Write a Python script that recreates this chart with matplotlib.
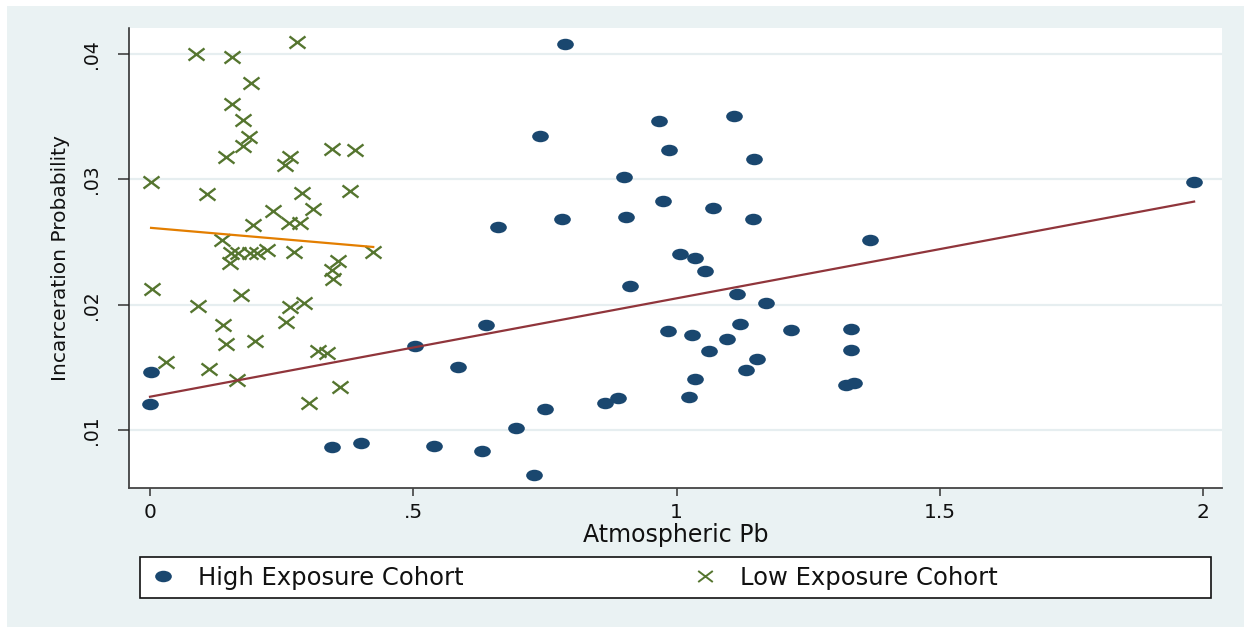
import numpy as np
import matplotlib
matplotlib.use("Agg")
import matplotlib.pyplot as plt
from matplotlib.path import Path
from matplotlib.patches import Rectangle
from matplotlib.lines import Line2D
from matplotlib.transforms import Affine2D

# ---------------- data ----------------
high_pb = [0.002, 0.000, 0.345, 0.401, 0.503, 0.539, 0.585, 0.638, 0.631, 0.660,
           0.696, 0.730, 0.740, 0.750, 0.782, 0.788, 0.864, 0.889, 0.900, 0.904,
           0.912, 0.966, 0.975, 0.986, 0.984, 1.006, 1.030, 1.036, 1.024, 1.035,
           1.055, 1.061, 1.070, 1.096, 1.109, 1.114, 1.121, 1.131, 1.147, 1.146,
           1.153, 1.170, 1.218, 1.332, 1.331, 1.322, 1.337, 1.367, 1.983]
high_prob = [0.01463, 0.01210, 0.00865, 0.00899, 0.01672, 0.00874, 0.01502, 0.01838, 0.00834, 0.02620,
             0.01016, 0.00643, 0.03346, 0.01165, 0.02684, 0.04082, 0.01214, 0.01255, 0.03020, 0.02701,
             0.02152, 0.03468, 0.02828, 0.03237, 0.01789, 0.02401, 0.01761, 0.02373, 0.01261, 0.01405,
             0.02272, 0.01630, 0.02774, 0.01727, 0.03506, 0.02083, 0.01846, 0.01480, 0.03161, 0.02683,
             0.01569, 0.02010, 0.01799, 0.01806, 0.01635, 0.01359, 0.01376, 0.02516, 0.02982]

low_pb = [0.280, 0.087, 0.155, 0.191, 0.155, 0.176, 0.188, 0.176, 0.144, 0.345,
          0.390, 0.266, 0.256, 0.002, 0.108, 0.289, 0.380, 0.234, 0.310, 0.196,
          0.264, 0.285, 0.136, 0.153, 0.151, 0.168, 0.190, 0.203, 0.223, 0.274,
          0.357, 0.345, 0.347, 0.424, 0.004, 0.173, 0.092, 0.265, 0.292, 0.138,
          0.258, 0.144, 0.199, 0.320, 0.337, 0.030, 0.112, 0.166, 0.360, 0.302]
low_prob = [0.04097, 0.03998, 0.03974, 0.03767, 0.03602, 0.03474, 0.03341, 0.03269, 0.03181, 0.03240,
            0.03237, 0.03181, 0.03117, 0.02982, 0.02883, 0.02889, 0.02907, 0.02748, 0.02764, 0.02636,
            0.02655, 0.02655, 0.02516, 0.02410, 0.02330, 0.02410, 0.02410, 0.02410, 0.02437, 0.02418,
            0.02351, 0.02277, 0.02205, 0.02423, 0.02123, 0.02077, 0.01992, 0.01979, 0.02011, 0.01838,
            0.01860, 0.01686, 0.01713, 0.01633, 0.01612, 0.01543, 0.01488, 0.01396, 0.01346, 0.01213]

x_ticks = [0, 0.5, 1, 1.5, 2]
x_tick_labels = ["0", ".5", "1", "1.5", "2"]
y_ticks = [0.01, 0.02, 0.03, 0.04]
y_tick_labels = [".01", ".02", ".03", ".04"]

# ---------------- style ----------------
NAVY = "#1A476F"
FOREST = "#55752F"
MAROON = "#90353B"
DKORANGE = "#E37E00"
REGION = "#EAF2F3"
GRID = "#E6EEF0"

plt.rcParams["font.family"] = ["DejaVu Sans"]

# horizontally elongated dot and cross markers
dot_path = Affine2D().scale(1.0, 0.69).transform_path(Path.unit_circle())
cross_path = Path([(-1, -0.76), (1, 0.76), (-1, 0.76), (1, -0.76)],
                  [Path.MOVETO, Path.LINETO, Path.MOVETO, Path.LINETO])

W, H = 1250, 629
fig = plt.figure(figsize=(W / 100, H / 100), dpi=100, facecolor="white")

# graph region panel
fig.patches.append(Rectangle((7 / W, 1 - 627 / H), (1244 - 7) / W, (627 - 6) / H,
                             transform=fig.transFigure, facecolor=REGION,
                             edgecolor="none", zorder=0))

ax = fig.add_axes([129 / W, 1 - 488 / H, (1222 - 129) / W, (488 - 28) / H])
ax.set_facecolor("white")
ax.set_zorder(1)

ax.plot(high_pb, high_prob, linestyle="none", marker=dot_path, markersize=12,
        markerfacecolor=NAVY, markeredgewidth=0, zorder=3)
ax.plot(low_pb, low_prob, linestyle="none", marker=cross_path, markersize=11.5,
        markerfacecolor="none", markeredgecolor=FOREST, markeredgewidth=1.7, zorder=3)

# linear fits for each cohort
hx = np.array(high_pb)
hy = np.array(high_prob)
lx = np.array(low_pb)
ly = np.array(low_prob)
hb, ha = np.polyfit(hx, hy, 1)
lb, la = np.polyfit(lx, ly, 1)
hxs = np.array([hx.min(), hx.max()])
lxs = np.array([lx.min(), lx.max()])
ax.plot(hxs, ha + hb * hxs, color=MAROON, lw=1.6, zorder=4)
ax.plot(lxs, la + lb * lxs, color=DKORANGE, lw=1.6, zorder=4)

ax.set_xlim(-0.0399, 2.036)
ax.set_ylim(0.005371, 0.042083)

ax.set_xticks(x_ticks)
ax.set_xticklabels(x_tick_labels)
ax.set_yticks(y_ticks)
ax.set_yticklabels(y_tick_labels, rotation=90, va="center")

ax.grid(axis="y", color=GRID, lw=1.6, zorder=0)
ax.set_axisbelow(True)

for side in ("top", "right"):
    ax.spines[side].set_visible(False)
ax.spines["left"].set_color("#222222")
ax.spines["left"].set_linewidth(1.1)
ax.spines["bottom"].set_color("#444444")
ax.spines["bottom"].set_linewidth(1.3)

ax.tick_params(axis="x", length=6, width=1.1, color="#333333", labelsize=14.5, pad=5,
               labelcolor="#111111")
ax.tick_params(axis="y", length=8, width=1.1, color="#333333", labelsize=13.5, pad=12,
               labelcolor="#111111")

ax.set_xlabel("Atmospheric Pb", fontsize=17, color="#111111")
ax.xaxis.set_label_coords(0.5, -0.076)
ax.set_ylabel("Incarceration Probability", fontsize=14.5, color="#111111")
ax.yaxis.set_label_coords(-0.054, 0.5)

# legend box with two entries
fig.patches.append(Rectangle((140 / W, 1 - 598 / H), (1211 - 140) / W, (598 - 557) / H,
                             transform=fig.transFigure, facecolor="white",
                             edgecolor="#111111", lw=1.2, zorder=1))
h_high = Line2D([], [], linestyle="none", marker=dot_path, markersize=12,
                markerfacecolor=NAVY, markeredgewidth=0)
h_low = Line2D([], [], linestyle="none", marker=cross_path, markersize=10.5,
               markerfacecolor="none", markeredgecolor=FOREST, markeredgewidth=1.4)
leg_kw = dict(loc="center left", frameon=False, fontsize=17.5, handlelength=1.0,
              handletextpad=0.95, borderpad=0, borderaxespad=0, labelcolor="#111111")
fig.legend([h_high], ["High Exposure Cohort"], bbox_to_anchor=(151 / W, 1 - 578 / H), **leg_kw)
fig.legend([h_low], ["Low Exposure Cohort"], bbox_to_anchor=(693 / W, 1 - 578 / H), **leg_kw)

fig.savefig("out.png", dpi=100, facecolor="white")
